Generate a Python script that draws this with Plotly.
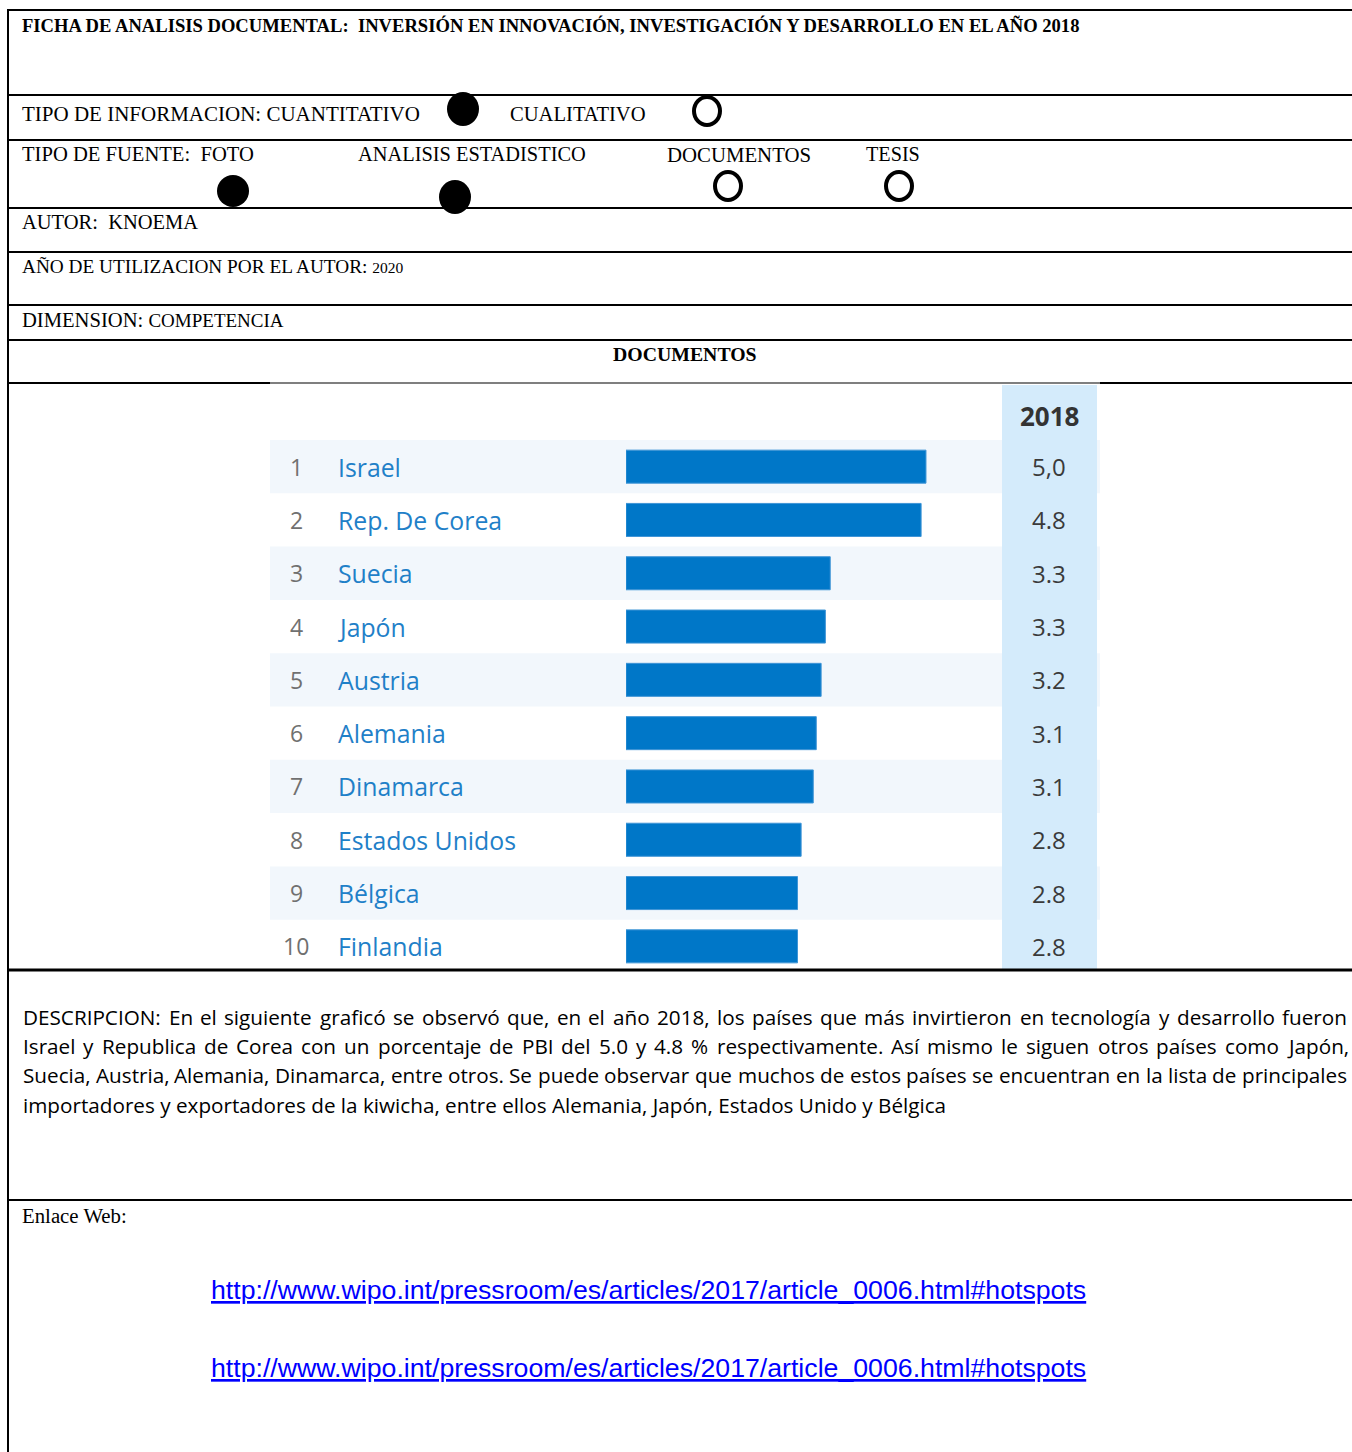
import plotly.graph_objects as go

W, H = 1352, 1452

# ---------------- data ----------------
ranks = [1, 2, 3, 4, 5, 6, 7, 8, 9, 10]
countries = ["Israel", "Rep. De Corea", "Suecia", "Japón", "Austria",
             "Alemania", "Dinamarca", "Estados Unidos", "Bélgica", "Finlandia"]
values = [4.95, 4.87, 3.37, 3.29, 3.22, 3.14, 3.09, 2.89, 2.83, 2.83]
value_labels = ["5,0", "4.8", "3.3", "3.3", "3.2", "3.1", "3.1", "2.8", "2.8", "2.8"]
year_label = "2018"

title_text = "FICHA DE ANALISIS DOCUMENTAL:\u00a0 INVERSIÓN EN INNOVACIÓN, INVESTIGACIÓN Y DESARROLLO EN EL AÑO 2018"
desc_lines = [
    "DESCRIPCION: En el siguiente graficó se observó que, en el año 2018, los países que más invirtieron en tecnología y desarrollo fueron",
    "Israel y Republica de Corea con un porcentaje de PBI del 5.0 y 4.8 % respectivamente. Así mismo le siguen otros países como Japón,",
    "Suecia, Austria, Alemania, Dinamarca, entre otros. Se puede observar que muchos de estos países se encuentran en la lista de principales",
    "importadores y exportadores de la kiwicha, entre ellos Alemania, Japón, Estados Unido y Bélgica",
]
link_text = "http://www.wipo.int/pressroom/es/articles/2017/article_0006.html#hotspots"

# ---------------- figure ----------------
fig = go.Figure()

# invisible anchor trace for the pixel layer
fig.add_trace(go.Scatter(x=[0, W], y=[0, H], mode="markers",
                         marker=dict(opacity=0), hoverinfo="skip",
                         showlegend=False, xaxis="x", yaxis="y"))

PX_PER_UNIT = 60.6
BAR_X0, BAR_X1 = 626, 1002
ROW_TOP, ROW_H = 440, 53.3
ROW_BOT = ROW_TOP + ROW_H * len(ranks)

fig.add_trace(go.Bar(x=values, y=ranks, orientation="h", xaxis="x2", yaxis="y2",
                     marker=dict(color="#0077c8", line=dict(color="#3f95d6", width=1)),
                     hoverinfo="skip", showlegend=False))

fig.update_layout(
    width=W, height=H, margin=dict(l=0, r=0, t=0, b=0),
    paper_bgcolor="white", plot_bgcolor="rgba(0,0,0,0)",
    bargap=0.38,
    xaxis=dict(range=[0, W], domain=[0, 1], visible=False, fixedrange=True),
    yaxis=dict(range=[H, 0], domain=[0, 1], visible=False, fixedrange=True),
    xaxis2=dict(range=[0, (BAR_X1 - BAR_X0) / PX_PER_UNIT],
                domain=[BAR_X0 / W, BAR_X1 / W], visible=False, fixedrange=True,
                anchor="y2"),
    yaxis2=dict(range=[10.5, 0.5], domain=[(H - ROW_BOT) / H, (H - ROW_TOP) / H],
                visible=False, fixedrange=True, anchor="x2"),
)

shapes = []
# alternating row bands
for r in ranks:
    if r % 2 == 1:
        shapes.append(dict(type="rect", xref="x", yref="y2", x0=270, x1=1100,
                           y0=r - 0.5, y1=r + 0.5, fillcolor="#f2f7fc",
                           line=dict(width=0), layer="below"))
# highlighted year column
shapes.append(dict(type="rect", xref="x", yref="y", x0=1002, x1=1097, y0=385, y1=970,
                   fillcolor="#d4ebfb", line=dict(width=0), layer="below"))

# frame lines
def hline(y, x0=8, x1=W, w=2):
    shapes.append(dict(type="line", xref="x", yref="y", x0=x0, x1=x1, y0=y, y1=y,
                       line=dict(color="black", width=w)))

for yy in [10, 95, 140, 208, 252, 305, 340]:
    hline(yy)
hline(383, 8, 270, 2)
hline(383, 270, 1100, 1.2)
hline(383, 1100, W, 2)
hline(970, w=3)
hline(1200, w=2)
shapes.append(dict(type="line", xref="x", yref="y", x0=8, x1=8, y0=9, y1=H,
                   line=dict(color="black", width=2)))

# option circles
def filled(cx, cy, rx=16, ry=17):
    shapes.append(dict(type="circle", xref="x", yref="y", x0=cx - rx, x1=cx + rx,
                       y0=cy - ry, y1=cy + ry, fillcolor="black", line=dict(width=0)))

def hollow(cx, cy, rx=13, ry=14):
    shapes.append(dict(type="circle", xref="x", yref="y", x0=cx - rx, x1=cx + rx,
                       y0=cy - ry, y1=cy + ry, fillcolor="rgba(0,0,0,0)",
                       line=dict(color="black", width=4)))

filled(463, 109)
hollow(707, 111)
filled(233, 191, 16, 16)
filled(455, 197)
hollow(728, 186)
hollow(899, 186)

annotations = []
SERIF = "Liberation Serif"

def txt(x, y, s, size, family=SERIF, color="black", xanchor="left", xref="x", yref="y", **kw):
    annotations.append(dict(x=x, y=y, xref=xref, yref=yref, text=s, showarrow=False,
                            xanchor=xanchor, yanchor="middle",
                            font=dict(family=family, size=size, color=color), **kw))

txt(20, 25, "<b>" + title_text + "</b>", 18.6)
txt(20, 114, "TIPO DE INFORMACION: CUANTITATIVO", 21)
txt(508, 114, "CUALITATIVO", 20.6)
txt(20, 154, "TIPO DE FUENTE:\u00a0 FOTO", 20.6)
txt(356, 154, "ANALISIS ESTADISTICO", 20.4)
txt(665, 154, "DOCUMENTOS", 20.8)
txt(864, 154, "TESIS", 20.2)
txt(20, 222, "AUTOR:\u00a0 KNOEMA", 20.5)
txt(20, 266, "AÑO DE UTILIZACION POR EL AUTOR: <span style='font-size:15.5px'>2020</span>", 19.3)
txt(20, 320, "DIMENSION: <span style='font-size:19px'>COMPETENCIA</span>", 20.6)
txt(685, 354, "<b>DOCUMENTOS</b>", 19.8, xanchor="center")
txt(20, 1215, "Enlace Web:", 20.8)

# chart labels
for r, c, v in zip(ranks, countries, value_labels):
    txt(296, r, str(r), 23, family="Open Sans", color="#707070", xanchor="center", yref="y2")
    txt(336, r, c, 24.8, family="Open Sans", color="#1f80c8", yref="y2")
    txt(1049, r, v, 24, family="Open Sans", color="#3a3a3a", xanchor="center", yref="y2")
txt(1049, 416, "<b>" + year_label + "</b>", 26, family="Open Sans", color="#333333", xanchor="center")

# ---------- justified description ----------
DESC_FONT, DESC_SIZE = "Open Sans", 20.7
LEFT, RIGHT = 22, 1346
desc_y = [1017, 1046, 1075, 1105]

# approximate Open Sans advance widths (em)
_W = {
    " ": .26, "a": .556, "b": .613, "c": .476, "d": .613, "e": .561, "f": .339, "g": .548,
    "h": .614, "i": .253, "j": .253, "k": .525, "l": .253, "m": .930, "n": .614, "o": .604,
    "p": .613, "q": .613, "r": .408, "s": .477, "t": .353, "u": .614, "v": .501, "w": .778,
    "x": .524, "y": .502, "z": .477,
    "A": .633, "B": .648, "C": .631, "D": .729, "E": .556, "F": .516, "G": .728, "H": .738,
    "I": .279, "J": .267, "K": .614, "L": .523, "M": .903, "N": .754, "O": .779, "P": .602,
    "Q": .779, "R": .618, "S": .549, "T": .556, "U": .728, "V": .604, "W": .921, "X": .59,
    "Y": .565, "Z": .56,
    ",": .245, ".": .266, ":": .266, "%": .828,
}
_ACC = {"á": "a", "é": "e", "í": "i", "ó": "o", "ú": "u", "ñ": "n", "Á": "A", "É": "E",
        "Í": "I", "Ó": "O", "Ú": "U", "Ñ": "N"}

def text_w(s, size):
    tot = 0.0
    for ch in s:
        ch = _ACC.get(ch, ch)
        if ch.isdigit():
            tot += .572
        else:
            tot += _W.get(ch, .55)
    return tot * size

def justified(line, y):
    words = line.split(" ")
    widths = [text_w(w, DESC_SIZE) for w in words]
    gap = (RIGHT - LEFT - sum(widths)) / (len(words) - 1)
    x = LEFT
    for w, wd in zip(words, widths):
        annotations.append(dict(x=x, y=y, xref="x", yref="y", text=w, showarrow=False,
                                xanchor="left", yanchor="middle", borderpad=0,
                                font=dict(family=DESC_FONT, size=DESC_SIZE, color="black")))
        x += wd + gap

for i, (line, yy) in enumerate(zip(desc_lines, desc_y)):
    if i < len(desc_lines) - 1:
        justified(line, yy)
    else:
        annotations.append(dict(x=LEFT, y=yy, xref="x", yref="y", text=line, showarrow=False,
                                xanchor="left", yanchor="middle", borderpad=0,
                                font=dict(family=DESC_FONT, size=DESC_SIZE, color="black")))

# links
for yy in [1290, 1368]:
    txt(209, yy, "<u>" + link_text + "</u>", 26.7, family="Liberation Sans", color="#0000ff")

fig.update_layout(shapes=shapes, annotations=annotations)

fig.write_html("out.html", config={"displayModeBar": False},
               post_script="document.body.style.margin='0';document.body.style.overflow='hidden';")
